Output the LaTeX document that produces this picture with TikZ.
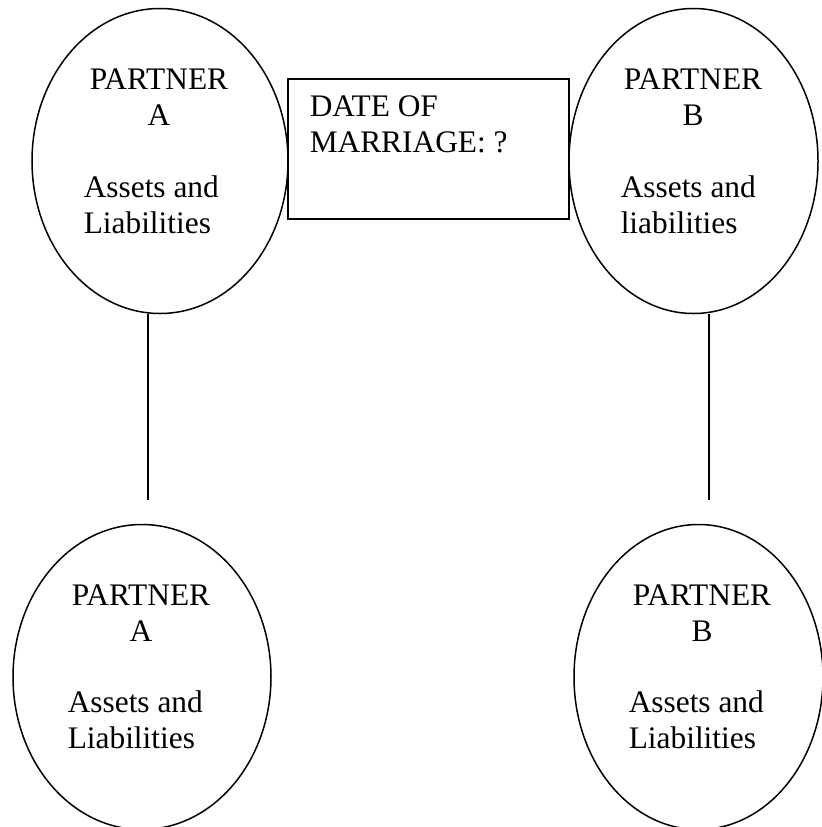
\documentclass[tikz,border=0pt]{standalone}
\usepackage{fontspec}
\setmainfont{Liberation Serif}
\usetikzlibrary{shapes.geometric, positioning}

\begin{document}
\begin{tikzpicture}[
    x=1bp, y=-1bp, line width=1.5bp,
    partner/.style={draw, ellipse, inner sep=0pt, minimum width=252bp, minimum height=305bp},
    datebox/.style={draw, rectangle, inner sep=0pt, minimum width=281bp, minimum height=140bp},
    title/.style={align=center, anchor=base, font=\fontsize{31.5}{36}\selectfont, inner sep=0pt},
    body/.style={align=left, anchor=base west, font=\fontsize{31.5}{36}\selectfont, inner sep=0pt}
]
    \useasboundingbox (0,0) rectangle (822,827);

    % Partners before marriage
    \node[partner, minimum width=256bp] (pA) at (160,161) {};
    \node[partner, minimum width=249bp] (pB) at (693.5,161) {};
    \node[title] (pAname) at (159,125) {PARTNER\\A};
    \node[body] (pAtext) at (83,233) {Assets and\\Liabilities};
    \node[title] (pBname) at (693,125) {PARTNER\\B};
    \node[body] (pBtext) at (620,233) {Assets and\\liabilities};

    % Date of marriage
    \node[datebox] (date) at (428.5,149) {};
    \node[body] (datetext) at (309,152) {DATE OF\\MARRIAGE: ?};

    % Partners after marriage
    \node[partner, minimum width=258bp] (qA) at (142,677) {};
    \node[partner, minimum width=249bp] (qB) at (698.5,677) {};
    \node[title] (qAname) at (141,641) {PARTNER\\A};
    \node[body] (qAtext) at (67,748) {Assets and\\Liabilities};
    \node[title] (qBname) at (702,641) {PARTNER\\B};
    \node[body] (qBtext) at (628,748) {Assets and\\Liabilities};

    % Lines
    \coordinate (endA) at (148,500);
    \coordinate (endB) at (709,500);
    \draw (endA |- pA.south) -- (endA);
    \draw (endB |- pB.south) -- (endB);

\end{tikzpicture}
\end{document}
